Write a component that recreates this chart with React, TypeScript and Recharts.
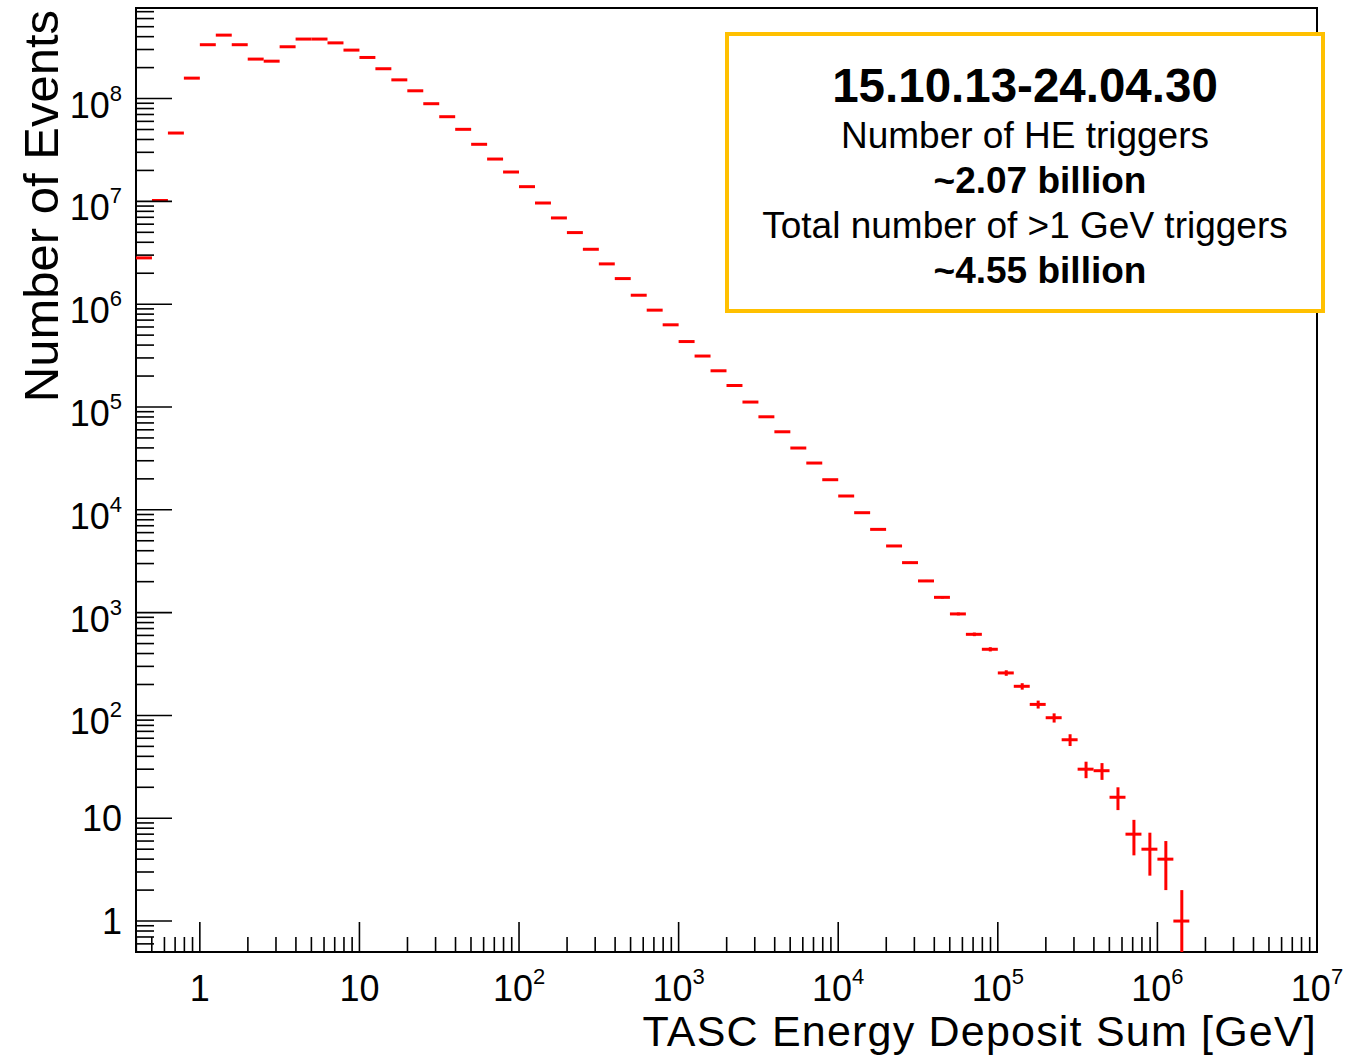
import { ComposedChart, Scatter, XAxis, YAxis, ReferenceLine, ReferenceArea } from "recharts";

// Histogram binning: 10 bins per decade in log10(E), first lower edge at 10^-0.4 GeV
const FIRST_BIN_LOG = -0.4;
const BIN_LOG_WIDTH = 0.1;

// Entries per bin, starting at the first bin
const binCounts = [
  2.82e6, 1.02e7, 4.62e7, 1.58e8,
  3.34e8, 4.14e8, 3.34e8, 2.42e8, 2.31e8, 3.19e8, 3.79e8, 3.79e8, 3.48e8, 2.96e8,
  2.51e8, 1.95e8, 1.52e8, 1.19e8, 8.91e7, 6.66e7, 5.02e7, 3.59e7, 2.58e7, 1.93e7,
  1.39e7, 9.64e6, 6.9e6, 4.97e6, 3.42e6, 2.465e6, 1.774e6, 1.222e6, 8.75e5, 6.3e5,
  4.33e5, 3.13e5, 2.25e5, 1.618e5, 1.117e5, 8.03e4, 5.74e4, 3.99e4, 2.85e4, 1.962e4,
  1.362e4, 9372, 6451, 4449, 3062, 2033, 1408, 971, 615, 440,
  259, 192, 128, 95, 58, 30, 29, 16, 7, 5,
  4, 1,
];

const xDomain: [number, number] = [Math.pow(10, -0.4), 1e7];
const yDomain: [number, number] = [0.5, 7.6e8];

const xDecades = [1, 10, 1e2, 1e3, 1e4, 1e5, 1e6, 1e7];
const xDecadeLabels: [string, string][] = [
  ["1", ""], ["10", ""], ["10", "2"], ["10", "3"], ["10", "4"], ["10", "5"], ["10", "6"], ["10", "7"],
];
const yDecades = [1, 10, 1e2, 1e3, 1e4, 1e5, 1e6, 1e7, 1e8];
const yDecadeLabels: [string, string][] = [
  ["1", ""], ["10", ""], ["10", "2"], ["10", "3"], ["10", "4"], ["10", "5"], ["10", "6"], ["10", "7"], ["10", "8"],
];

const FONT = "'Liberation Sans', Arial, Helvetica, sans-serif";
const RED = "#ff0000";

// minor log ticks 2..9 x 10^k inside the axis range
function minorTicks([lo, hi]: [number, number]) {
  const out: number[] = [];
  for (let k = Math.floor(Math.log10(lo)); k <= Math.ceil(Math.log10(hi)); k++) {
    for (let m = 2; m <= 9; m++) {
      const v = m * Math.pow(10, k);
      if (v >= lo && v <= hi) out.push(v);
    }
  }
  return out;
}

const xTicks = [...xDecades, ...minorTicks(xDomain)].sort((a, b) => a - b);
const yTicks = [...yDecades, ...minorTicks(yDomain)].sort((a, b) => a - b);

const bins = binCounts.map((n, i) => {
  const lo = Math.pow(10, FIRST_BIN_LOG + i * BIN_LOG_WIDTH);
  const hi = Math.pow(10, FIRST_BIN_LOG + (i + 1) * BIN_LOG_WIDTH);
  const err = Math.sqrt(n);
  return {
    lo,
    hi,
    x: (lo + hi) / 2,
    y: n,
    yLo: Math.max(n - err, yDomain[0]),
    yHi: n + err,
  };
});

const decadeIndex = (list: number[], v: number) =>
  list.findIndex((d) => Math.abs(d - v) / d < 1e-6);

function TickLabel({ x, y, label, anchor, supDy }: { x: number; y: number; label: [string, string]; anchor: "middle" | "end"; supDy: number }) {
  return (
    <text x={x} y={y} textAnchor={anchor} fontSize={36} fontFamily={FONT} fill="#000">
      <tspan>{label[0]}</tspan>
      {label[1] && (
        <tspan dy={supDy} fontSize={22}>
          {label[1]}
        </tspan>
      )}
    </text>
  );
}

function XTick(props: any) {
  const { x, y, payload } = props;
  const idx = decadeIndex(xDecades, payload.value);
  const major = idx >= 0;
  return (
    <g>
      <line x1={x} x2={x} y1={y} y2={y - (major ? 30 : 15)} stroke="#000" strokeWidth={1.6} />
      {major && <TickLabel x={x} y={y + 49} label={xDecadeLabels[idx]} anchor="middle" supDy={-17} />}
    </g>
  );
}

function YTick(props: any) {
  const { x, y, payload } = props;
  const idx = decadeIndex(yDecades, payload.value);
  const major = idx >= 0;
  const label = major ? yDecadeLabels[idx] : null;
  return (
    <g>
      <line x1={x} x2={x + (major ? 36 : 18)} y1={y} y2={y} stroke="#000" strokeWidth={1.6} />
      {label && (
        <TickLabel x={x - 14} y={label[1] ? y + 19 : y + 12.5} label={label} anchor="end" supDy={-17} />
      )}
    </g>
  );
}

export default function App() {
  return (
    <div style={{ position: "absolute", left: 0, top: 0, width: 1365, height: 1060, background: "#fff" }}>
      <ComposedChart width={1365} height={1060} margin={{ top: 8, right: 48, bottom: 0, left: 0 }} data={bins}>
        <XAxis
          dataKey="x"
          type="number"
          scale="log"
          domain={xDomain}
          allowDataOverflow
          ticks={xTicks}
          interval={0}
          tick={<XTick />}
          tickLine={false}
          axisLine={false}
          tickSize={0}
          tickMargin={0}
          height={108}
        />
        <YAxis
          dataKey="y"
          type="number"
          scale="log"
          domain={yDomain}
          allowDataOverflow
          ticks={yTicks}
          interval={0}
          tick={<YTick />}
          tickLine={false}
          axisLine={false}
          tickSize={0}
          tickMargin={0}
          width={136}
        />
        <ReferenceArea
          x1={xDomain[0]}
          x2={xDomain[1]}
          y1={yDomain[0]}
          y2={yDomain[1]}
          fill="none"
          fillOpacity={0}
          stroke="#000"
          strokeWidth={2}
          ifOverflow="visible"
        />
        {bins.map((b, i) => (
          <ReferenceLine
            key={`h${i}`}
            segment={[{ x: b.lo, y: b.y }, { x: b.hi, y: b.y }]}
            stroke={RED}
            strokeWidth={3}
            ifOverflow="visible"
          />
        ))}
        {bins.map((b, i) => (
          <ReferenceLine
            key={`e${i}`}
            segment={[{ x: b.x, y: b.yLo }, { x: b.x, y: b.yHi }]}
            stroke={RED}
            strokeWidth={3}
            ifOverflow="visible"
          />
        ))}
        <Scatter dataKey="y" shape={() => <g />} isAnimationActive={false} />
      </ComposedChart>

      <svg
        width={1365}
        height={1060}
        style={{ position: "absolute", left: 0, top: 0, pointerEvents: "none" }}
        fontFamily={FONT}
      >
        <text transform="translate(58,10) rotate(-90)" textAnchor="end" fontSize={49} fill="#000">
          Number of Events
        </text>
        <text x={1317} y={1046} textAnchor="end" fontSize={43} letterSpacing={1.2} fill="#000">
          TASC Energy Deposit Sum [GeV]
        </text>

        <rect x={727} y={34} width={596} height={277} fill="#fff" stroke="#ffc000" strokeWidth={4} />
        <g textAnchor="middle" fill="#000">
          <text x={1025} y={102} fontSize={47.5} fontWeight="bold">15.10.13-24.04.30</text>
          <text x={1025} y={148} fontSize={37}>Number of HE triggers</text>
          <text x={1040} y={193} fontSize={37} fontWeight="bold">~2.07 billion</text>
          <text x={1025} y={238} fontSize={37}>Total number of &gt;1 GeV triggers</text>
          <text x={1040} y={283} fontSize={37} fontWeight="bold">~4.55 billion</text>
        </g>
      </svg>
    </div>
  );
}
